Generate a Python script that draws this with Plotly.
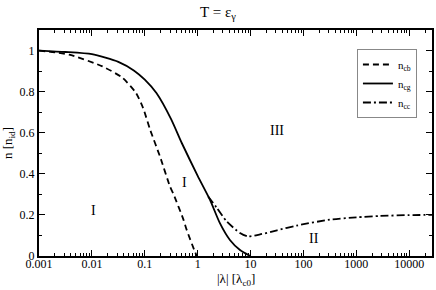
import math
import plotly.graph_objects as go

# ---- data ----
lam_cb = [0.001, 0.0037, 0.0158, 0.038, 0.068, 0.093, 0.126, 0.194, 0.30, 0.35, 0.54, 0.62, 0.89, 0.97]
n_cb   = [1.0,   0.98,   0.923,  0.867, 0.794, 0.72,  0.615, 0.484, 0.338, 0.30, 0.176, 0.127, 0.02, 0.0]

lam_cg = [0.001, 0.00316, 0.01, 0.0316, 0.063, 0.1, 0.166, 0.316, 0.50, 1.0, 1.71, 2.63, 4.07, 6.31, 9.8]
n_cg   = [1.0,   0.993,   0.982, 0.945, 0.902, 0.858, 0.793, 0.665, 0.55, 0.39, 0.273, 0.16, 0.078, 0.029, 0.0]

lam_cc = [1.58, 2.29, 3.55, 6.31, 8.9, 15.1, 31.6, 74.1, 316, 1000, 2820, 10000, 26900]
n_cc   = [0.29, 0.235, 0.168, 0.112, 0.095, 0.105, 0.125, 0.148, 0.177, 0.188, 0.195, 0.199, 0.2]

x_tickvals = [0.001, 0.01, 0.1, 1, 10, 100, 1000, 10000]
x_ticktext = ["0.001", "0.01", "0.1", "1", "10", "100", "1000", "10000"]
y_tickvals = [0, 0.2, 0.4, 0.6, 0.8, 1.0]
y_ticktext = ["0", "0.2", "0.4", "0.6", "0.8", "1"]

region_labels = ["I", "I", "III", "II"]
region_x = [0.0105, 0.57, 31.6, 158]
region_y = [0.22, 0.36, 0.61, 0.085]

FONT = "Liberation Serif"

fig = go.Figure()
fig.add_trace(go.Scatter(x=lam_cb, y=n_cb, mode="lines", name="n<sub>cb</sub>",
                         line=dict(color="black", width=1.8, dash="6px,4px", shape="spline", smoothing=0.6)))
fig.add_trace(go.Scatter(x=lam_cg, y=n_cg, mode="lines", name="n<sub>cg</sub>",
                         line=dict(color="black", width=1.8, shape="spline", smoothing=0.6)))
fig.add_trace(go.Scatter(x=lam_cc, y=n_cc, mode="lines", name="n<sub>cc</sub>",
                         line=dict(color="black", width=1.8, dash="8px,3px,2px,3px", shape="spline", smoothing=0.6)))

for t, x, y in zip(region_labels, region_x, region_y):
    fig.add_annotation(x=math.log10(x), y=y, xref="x", yref="y", text=t, showarrow=False,
                       font=dict(family=FONT, size=14, color="black"), xanchor="center", yanchor="middle")

# x-axis title as a paper annotation so it fits under the tick labels
fig.add_annotation(x=0.5, y=-0.105, xref="paper", yref="paper", text="|λ| [λ<sub>c0</sub>]",
                   showarrow=False, xanchor="center", yanchor="middle",
                   font=dict(family=FONT, size=13, color="black"))

fig.update_layout(
    width=436, height=290,
    margin=dict(l=39, r=4, t=30, b=34),
    paper_bgcolor="white", plot_bgcolor="white",
    font=dict(family=FONT, size=12, color="black"),
    title=dict(text="T = ε<sub>γ</sub>", x=0.5, xanchor="center", y=0.96, yanchor="middle",
               font=dict(family=FONT, size=15, color="black")),
    showlegend=True,
    legend=dict(x=0.809, y=0.916, xanchor="left", yanchor="top", bgcolor="white",
                bordercolor="#888888", borderwidth=1, font=dict(family=FONT, size=11),
                itemwidth=30, tracegroupgap=0),
)
fig.update_xaxes(type="log", range=[-3, 4.43], automargin=False,
                 tickmode="array", tickvals=x_tickvals, ticktext=x_ticktext,
                 ticks="inside", ticklen=6, tickwidth=1, tickcolor="black",
                 ticklabelstandoff=-4,
                 showline=True, linewidth=2, linecolor="black", mirror="allticks",
                 showgrid=False, zeroline=False,
                 minor=dict(ticks="inside", ticklen=3, dtick="D1", tickcolor="black", showgrid=False),
                 tickfont=dict(family=FONT, size=12))
fig.update_yaxes(range=[0, 1.1], automargin=False,
                 tickmode="array", tickvals=y_tickvals, ticktext=y_ticktext,
                 ticks="inside", ticklen=6, tickwidth=1, tickcolor="black",
                 showline=True, linewidth=2, linecolor="black", mirror="allticks",
                 showgrid=False, zeroline=False,
                 minor=dict(ticks="inside", ticklen=3, dtick=0.1, tickcolor="black", showgrid=False),
                 title=dict(text="n [n<sub>id</sub>]", standoff=4, font=dict(family=FONT, size=13)),
                 tickfont=dict(family=FONT, size=12))

# remove the default page margin so the figure sits at the window's top-left corner
fig.write_html("out.html", config={"displayModeBar": False},
               post_script="document.body.style.margin='0px';")
